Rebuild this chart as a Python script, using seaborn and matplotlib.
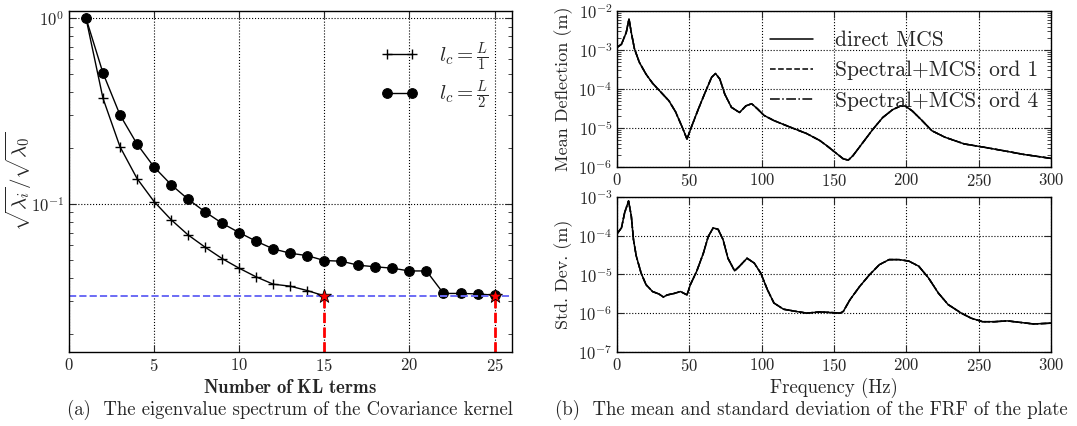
import numpy as np
import pandas as pd
import matplotlib
matplotlib.use("Agg")
import matplotlib.pyplot as plt
from matplotlib.ticker import LogLocator
import seaborn as sns

# (a) eigenvalue spectrum, sqrt(lambda_i)/sqrt(lambda_0)
kl_terms_L1 = [1, 2, 3, 4, 5, 6, 7, 8, 9, 10, 11, 12, 13, 14, 15]
ratio_L1 = [1.0, 0.370, 0.203, 0.137, 0.103, 0.0823, 0.0681, 0.0585, 0.0508,
            0.0451, 0.0405, 0.0370, 0.0361, 0.0342, 0.0320]
kl_terms_L2 = list(range(1, 26))
ratio_L2 = [1.0, 0.506, 0.301, 0.210, 0.158, 0.127, 0.106, 0.0906, 0.0787, 0.0701,
            0.0630, 0.0573, 0.0543, 0.0527, 0.0496, 0.0492, 0.0468, 0.0459, 0.0451,
            0.0436, 0.0436, 0.0330, 0.0330, 0.0328, 0.0323]
threshold = 0.032
cutoff_terms = [15, 25]

# (b) FRF of the plate
freq_mean = [0, 3, 6.3, 8.2, 9.8, 12, 15.4, 20, 24.5, 30, 35.8, 40.4, 45, 48.3, 51.7,
             56.2, 60.8, 65.3, 68, 71, 74.4, 79, 84.6, 89, 93, 97, 101.6, 108.4, 119.7,
             131, 140, 145, 151.8, 156.3, 159.8, 163, 170, 176.8, 183.6, 190.4, 196,
             199.4, 204, 210.8, 217.6, 226.6, 240, 253.9, 267.5, 281, 300]
mean_defl = [1.17e-3, 1.41e-3, 2.82e-3, 6.3e-3, 2.8e-3, 1.07e-3, 4.8e-4, 2.4e-4,
             1.41e-4, 8.5e-5, 5.0e-5, 2.6e-5, 1.05e-5, 5.2e-6, 1.15e-5, 3.1e-5, 8.1e-5,
             2.0e-4, 2.5e-4, 1.8e-4, 7.4e-5, 3.4e-5, 2.5e-5, 3.7e-5, 4.2e-5, 3.1e-5,
             2.1e-5, 1.55e-5, 1.05e-5, 7.2e-6, 4.8e-6, 3.5e-6, 2.2e-6, 1.62e-6, 1.5e-6,
             1.95e-6, 4.3e-6, 9.3e-6, 1.86e-5, 2.95e-5, 3.7e-5, 3.6e-5, 2.75e-5,
             1.55e-5, 8.5e-6, 5.8e-6, 3.9e-6, 3.2e-6, 2.6e-6, 2.1e-6, 1.66e-6]
freq_std = [0, 3, 5.2, 7.9, 9.8, 11.3, 13.2, 16.6, 20, 24.5, 29, 32, 34.7, 39.2, 43.8,
            48.3, 50.6, 55, 59.6, 63, 66.4, 69.8, 73.2, 76.6, 81.2, 84.6, 89.8, 94.8,
            99.3, 103.9, 108.4, 115, 124, 131, 140, 145, 154, 156.3, 160.9, 167.7,
            174.5, 181.3, 188, 194.9, 201.6, 208.5, 215.2, 222, 228.8, 237.9, 244.7,
            252.6, 260.7, 269.7, 278.7, 287.8, 300]
std_dev = [1.12e-4, 1.58e-4, 3.9e-4, 7.8e-4, 3.2e-4, 7.9e-5, 3.0e-5, 1.07e-5, 5.4e-6,
           3.6e-6, 3.1e-6, 2.6e-6, 2.95e-6, 3.2e-6, 3.6e-6, 2.95e-6, 5.4e-6, 1.2e-5,
           3.5e-5, 9.5e-5, 1.58e-4, 1.45e-4, 7.9e-5, 2.6e-5, 1.23e-5, 1.62e-5, 2.6e-5,
           1.95e-5, 1.07e-5, 4.0e-6, 1.82e-6, 1.26e-6, 1.1e-6, 1.0e-6, 1.07e-6, 1.05e-6,
           1.0e-6, 1.1e-6, 2.2e-6, 4.9e-6, 9.8e-6, 1.78e-5, 2.4e-5, 2.4e-5, 2.2e-5,
           1.62e-5, 8.1e-6, 3.3e-6, 1.66e-6, 1.0e-6, 7.4e-7, 6.0e-7, 6.0e-7, 6.3e-7,
           5.75e-7, 5.25e-7, 5.5e-7]
methods = ["direct MCS", "Spectral+MCS: ord 1", "Spectral+MCS: ord 4"]
method_styles = ["-", "--", "-."]

sns.set_style("ticks", {"xtick.direction": "in", "ytick.direction": "in",
                        "axes.edgecolor": "black"})
plt.rcParams["font.family"] = ["cmr10", "DejaVu Serif"]
plt.rcParams["mathtext.fontset"] = "cm"
plt.rcParams["axes.formatter.use_mathtext"] = True

fig = plt.figure(figsize=(10.77, 4.26), dpi=100)
ax1 = fig.add_axes([0.064, 0.174, 0.411, 0.800])
ax2 = fig.add_axes([0.573, 0.608, 0.403, 0.366])
ax3 = fig.add_axes([0.573, 0.174, 0.403, 0.364])

def style_axis(ax, labelsize=12):
    ax.grid(True, which="major", color="black", linestyle=":", linewidth=0.8)
    ax.tick_params(which="major", length=5, width=0.8, labelsize=labelsize,
                   top=True, right=True, direction="in")
    ax.tick_params(which="minor", length=3, width=0.6, top=True, right=True, direction="in")
    for sp in ax.spines.values():
        sp.set_linewidth(1.0)
        sp.set_color("black")

# left panel
sns.lineplot(x=kl_terms_L1, y=ratio_L1, ax=ax1, color="black", lw=1, marker="+",
             markersize=7, markeredgewidth=1, markeredgecolor="black",
             label=r"$l_c = \frac{L}{1}$")
sns.lineplot(x=kl_terms_L2, y=ratio_L2, ax=ax1, color="black", lw=1, marker="o",
             markersize=7, markeredgecolor="black", label=r"$l_c = \frac{L}{2}$")
ax1.axhline(threshold, color="#6b6bf5", linestyle="--", lw=1.4)
ax1.vlines(cutoff_terms, 0.016, threshold, colors="red", linestyles="--", lw=2)
sns.scatterplot(x=cutoff_terms, y=[threshold] * len(cutoff_terms), ax=ax1, marker="*",
                s=110, color="red", edgecolor="black", linewidth=0.6, zorder=5)
ax1.set_yscale("log")
ax1.set_xlim(0, 26)
ax1.set_ylim(0.016, 1.09)
ax1.set_xticks([0, 5, 10, 15, 20, 25])
ax1.set_xlabel(r"$\mathbf{Number\ of\ KL\ terms}$", fontsize=13.5, labelpad=4)
ax1.set_ylabel(r"$\sqrt{\lambda_i}/\sqrt{\lambda_0}$", fontsize=15)
ax1.yaxis.set_label_coords(-0.08, 0.5)
style_axis(ax1)
ax1.legend(loc="upper right", frameon=False, numpoints=2, fontsize=15,
           handlelength=1.8, handletextpad=1.0, labelspacing=0.3,
           bbox_to_anchor=(0.99, 0.97))

# right panels
for ls, name in zip(method_styles, methods):
    sns.lineplot(x=freq_mean, y=mean_defl, ax=ax2, color="black", lw=1.1,
                 linestyle=ls, label=name)
    sns.lineplot(x=freq_std, y=std_dev, ax=ax3, color="black", lw=1.1, linestyle=ls)

for ax in (ax2, ax3):
    ax.set_yscale("log")
    ax.yaxis.set_major_locator(LogLocator(base=10, numticks=20))
    ax.set_xlim(0, 300)
    ax.set_xticks([0, 50, 100, 150, 200, 250, 300])
    style_axis(ax)
ax2.set_ylim(1e-6, 1e-2)
ax3.set_ylim(1e-7, 1e-3)
ax2.set_ylabel("Mean Deflection (m)", fontsize=13, labelpad=4)
ax3.set_ylabel("Std. Dev. (m)", fontsize=13, labelpad=4)
ax3.set_xlabel("Frequency (Hz)", fontsize=13.5, labelpad=3)
ax2.set_xlabel("")
ax2.legend(loc="upper right", frameon=False, fontsize=15.5, handlelength=2.0,
           handletextpad=1.0, labelspacing=0.5, bbox_to_anchor=(0.99, 0.93),
           borderaxespad=0)

fig.text(0.269, 0.025, "(a)  The eigenvalue spectrum of the Covariance kernel",
         ha="center", va="baseline", fontsize=13.5)
fig.text(0.7535, 0.025, "(b)  The mean and standard deviation of the FRF of the plate",
         ha="center", va="baseline", fontsize=13.5)

fig.savefig("out.png", dpi=100)
